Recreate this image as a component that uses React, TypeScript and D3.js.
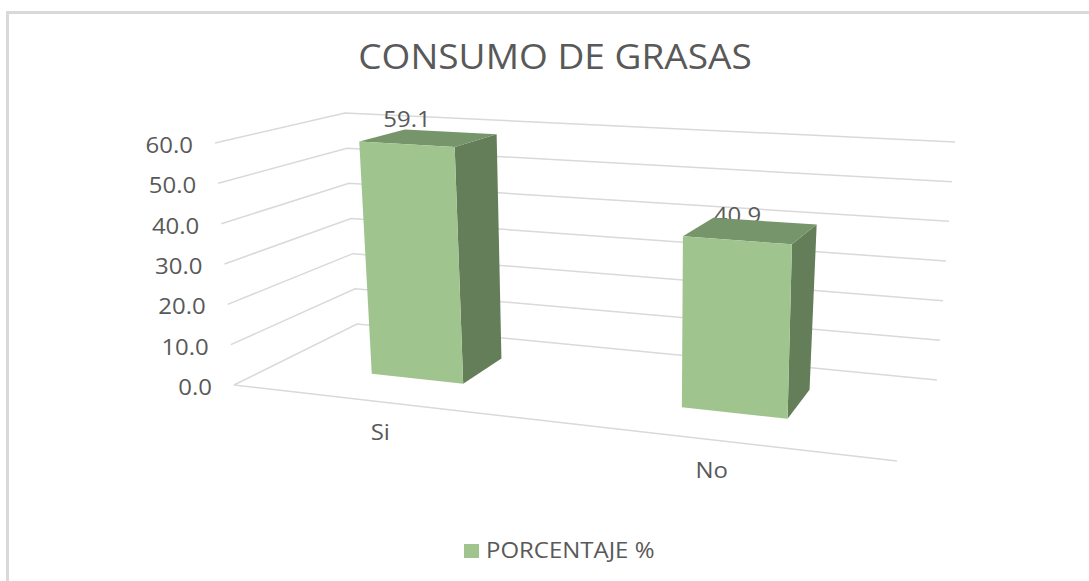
import React from "react";
import * as d3 from "d3";

const title = "CONSUMO DE GRASAS";
const categories = ["Si", "No"];
const values = [59.1, 40.9];
const valueTicks = [0, 10, 20, 30, 40, 50, 60];
const seriesName = "PORCENTAJE %";

type Pt = [number, number];
const W = 1089, H = 581;
const TEXT = "#595959", GRID = "#d9d9d9";
const FONT = "'Open Sans', 'Noto Sans', sans-serif";
const STRETCH = 1.09;
const TOP_WARP = 0.09;

// plot box: corners of the floor and of the plane at the top of the value axis
// order: front-left, front-right, back-right, back-left
const floorQuad: Pt[] = [[234, 385], [897, 461], [937, 380], [357, 324]];
const topQuad: Pt[] = [[215, 143], [905, 186], [955, 142], [345, 113]];

function homography(q: Pt[]) {
  const [[x0, y0], [x1, y1], [x2, y2], [x3, y3]] = q;
  const dx1 = x1 - x2, dx2 = x3 - x2, sx = x0 - x1 + x2 - x3;
  const dy1 = y1 - y2, dy2 = y3 - y2, sy = y0 - y1 + y2 - y3;
  const den = dx1 * dy2 - dx2 * dy1;
  const g = (sx * dy2 - dx2 * sy) / den;
  const h = (dx1 * sy - sx * dy1) / den;
  const a = x1 - x0 + g * x1, b = x3 - x0 + h * x3;
  const d = y1 - y0 + g * y1, e = y3 - y0 + h * y3;
  return (u: number, w: number): Pt => {
    const k = g * u + h * w + 1;
    return [(a * u + b * w + x0) / k, (d * u + e * w + y0) / k];
  };
}
const floorAt = homography(floorQuad);
const topAt = homography(topQuad);
const yScale = d3.scaleLinear().domain([0, 60]).range([0, 1]);
const project = (u: number, v: number, w: number): Pt =>
  d3.interpolateArray(floorAt(u, w), topAt(u + TOP_WARP * u * (1 - u), w))(yScale(v)) as Pt;

const xBand = d3.scaleBand<string>().domain(categories).range([0, 0.995]).paddingInner(0.69).paddingOuter(0.335);
const depth = d3.scaleLinear().domain([0, 1]).range([0.32, 0.7]);
const line = d3.line<Pt>();
const closed = (p: Pt[]) => line(p)! + "Z";

function Label({ x, y, size, anchor = "start", children }: { x: number; y: number; size: number; anchor?: string; children: React.ReactNode }) {
  return (
    <text transform={`translate(${x},${y}) scale(${STRETCH},1)`} textAnchor={anchor} fontSize={size} fill={TEXT}>
      {children}
    </text>
  );
}

export default function App() {
  return (
    <svg width={W} height={H} viewBox={`0 0 ${W} ${H}`} style={{ position: "absolute", left: 0, top: 0, display: "block", background: "#fff" }} fontFamily={FONT}>
      <path d={`M7.5 ${H}V12.5H${W}`} fill="none" stroke={GRID} strokeWidth={3} />
      <Label x={555} y={69} size={34} anchor="middle">{title}</Label>

      {valueTicks.map((t) => (
        <path key={t} d={line([project(0, t, 0), project(0, t, 1), project(1, t, 1)])!} fill="none" stroke={GRID} strokeWidth={1.5} />
      ))}
      <path d={line([project(0, 0, 0), project(1, 0, 0)])!} fill="none" stroke={GRID} strokeWidth={1.5} />

      {valueTicks.map((t) => {
        const [x, y] = project(0, t, 0);
        return <Label key={t} x={x - 22} y={y + 10} size={22} anchor="end">{t.toFixed(1)}</Label>;
      })}

      {categories.map((c, i) => {
        const u0 = xBand(c)!, u1 = u0 + xBand.bandwidth();
        const v = values[i], f = depth(0);
        const flv = project(u0, v, f), frv = project(u1, v, f);
        const [lx, ly] = project((u0 + u1) / 2, 0, 0);
        return (
          <g key={c}>
            <Label x={(flv[0] + frv[0]) / 2} y={(flv[1] + frv[1]) / 2 - 17} size={22} anchor="middle">{v.toFixed(1)}</Label>
            <Label x={lx + 1} y={ly + 38} size={22} anchor="middle">{c}</Label>
          </g>
        );
      })}

      {categories.map((c, i) => {
        const u0 = xBand(c)!, u1 = u0 + xBand.bandwidth();
        const v = values[i], f = depth(0), b = depth(1);
        const fl0 = project(u0, 0, f), fr0 = project(u1, 0, f), br0 = project(u1, 0, b);
        const flv = project(u0, v, f), frv = project(u1, v, f), brv = project(u1, v, b), blv = project(u0, v, b);
        return (
          <g key={c}>
            <path d={closed([fr0, br0, brv, frv])} fill="#647e5a" />
            <path d={closed([flv, frv, brv, blv])} fill="#76956a" />
            <path d={closed([fl0, fr0, frv, flv])} fill="#a0c48e" />
          </g>
        );
      })}

      <rect x={464} y={544} width={15} height={14} fill="#a0c48e" />
      <Label x={486} y={558} size={22}>{seriesName}</Label>
    </svg>
  );
}
